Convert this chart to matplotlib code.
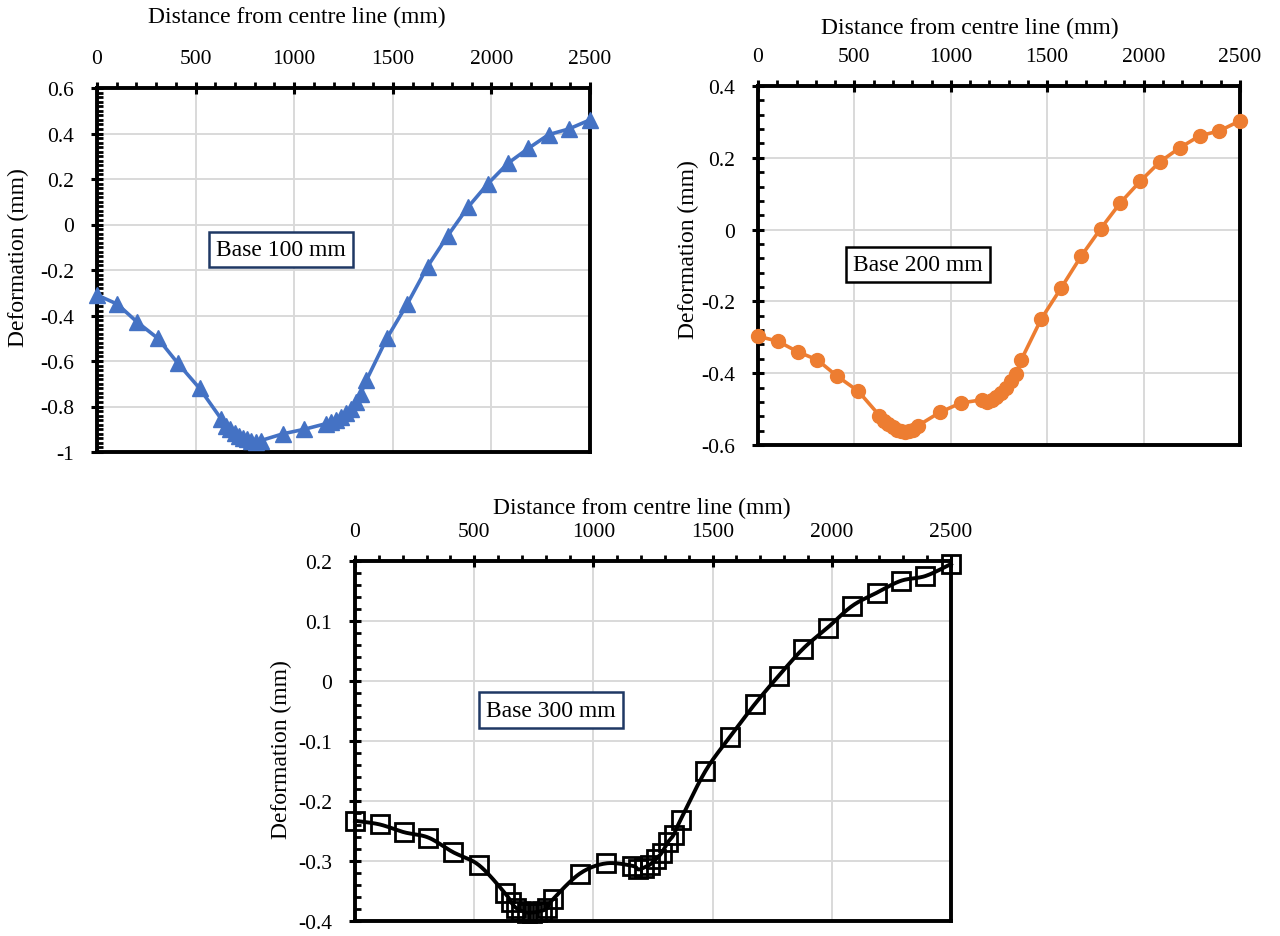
import numpy as np
import matplotlib
matplotlib.use("Agg")
import matplotlib.pyplot as plt
from matplotlib.ticker import MultipleLocator, FuncFormatter

plt.rcParams['font.family'] = ['Liberation Serif', 'DejaVu Serif']

# ---- data ----
distance = [0, 103, 205, 308, 410, 520, 630, 655, 675, 698, 720, 742, 762, 783, 805, 830,
            943, 1052, 1163, 1188, 1212, 1237, 1262, 1287, 1312, 1337, 1366,
            1470, 1573, 1676, 1778, 1880, 1983, 2085, 2188, 2290, 2393, 2500]

def_base100 = [-0.31, -0.35, -0.43, -0.50, -0.61, -0.72, -0.855, -0.885, -0.90, -0.915, -0.93,
               -0.94, -0.945, -0.95, -0.955, -0.95,
               -0.92, -0.90, -0.875, -0.87, -0.86, -0.845, -0.83, -0.81, -0.78, -0.745, -0.685,
               -0.50, -0.35, -0.185, -0.05, 0.075, 0.18, 0.27, 0.335, 0.395, 0.42, 0.46]

def_base200 = [-0.297, -0.311, -0.34, -0.363, -0.408, -0.45, -0.518, -0.532, -0.541, -0.551, -0.557,
               -0.562, -0.563, -0.562, -0.558, -0.546,
               -0.509, -0.483, -0.474, -0.479, -0.475, -0.466, -0.455, -0.44, -0.423, -0.403, -0.362,
               -0.248, -0.162, -0.074, 0.003, 0.075, 0.135, 0.189, 0.228, 0.261, 0.275, 0.303]

def_base300 = [-0.233, -0.239, -0.252, -0.261, -0.285, -0.307, -0.354, -0.369, -0.378, -0.383, -0.386,
               -0.386, -0.385, -0.383, -0.379, -0.364,
               -0.321, -0.304, -0.308, -0.314, -0.311, -0.306, -0.297, -0.286, -0.269, -0.256, -0.231,
               -0.15, -0.093, -0.039, 0.009, 0.054, 0.089, 0.125, 0.147, 0.167, 0.175, 0.195]

labels = ["Base 100 mm", "Base 200 mm", "Base 300 mm"]
xlabel = "Distance from centre line (mm)"
ylabel = "Deformation (mm)"

W, H = 1280, 937
fig = plt.figure(figsize=(W / 100, H / 100), dpi=100)

def ax_at(l, t, r, b):
    return fig.add_axes([l / W, 1 - b / H, (r - l) / W, (b - t) / H])

def catmull(x, y, n=20):
    x = np.asarray(x, float); y = np.asarray(y, float)
    px = np.concatenate([[x[0]], x, [x[-1]]])
    py = np.concatenate([[y[0]], y, [y[-1]]])
    xs, ys = [], []
    t = np.linspace(0, 1, n, endpoint=False)
    for i in range(1, len(px) - 2):
        p0, p1, p2, p3 = px[i-1], px[i], px[i+1], px[i+2]
        q0, q1, q2, q3 = py[i-1], py[i], py[i+1], py[i+2]
        c1x = p1 + (p2 - p0) / 6; c2x = p2 - (p3 - p1) / 6
        c1y = q1 + (q2 - q0) / 6; c2y = q2 - (q3 - q1) / 6
        b0 = (1 - t) ** 3; b1 = 3 * (1 - t) ** 2 * t; b2 = 3 * (1 - t) * t ** 2; b3 = t ** 3
        xs.append(b0 * p1 + b1 * c1x + b2 * c2x + b3 * p2)
        ys.append(b0 * q1 + b1 * c1y + b2 * c2y + b3 * q2)
    xs.append([x[-1]]); ys.append([y[-1]])
    return np.concatenate(xs), np.concatenate(ys)

def style(ax, ylim, ymaj, ymin, yfmt):
    ax.set_xlim(0, 2500)
    ax.set_ylim(*ylim)
    ax.xaxis.tick_top()
    ax.xaxis.set_major_locator(MultipleLocator(500))
    ax.xaxis.set_minor_locator(MultipleLocator(100))
    ax.yaxis.set_major_locator(MultipleLocator(ymaj))
    ax.yaxis.set_minor_locator(MultipleLocator(ymin))
    ax.yaxis.set_major_formatter(FuncFormatter(yfmt))
    ax.grid(True, which='major', color='#d9d9d9', linewidth=1.4)
    ax.set_axisbelow(True)
    for s in ax.spines.values():
        s.set_linewidth(2.8)
        s.set_color('black')
    ax.tick_params(axis='both', which='major', direction='inout', length=9, width=2.2,
                   labelsize=15.5, colors='black')
    ax.tick_params(axis='x', which='major', pad=10, top=True, bottom=False)
    ax.tick_params(axis='y', which='major', pad=12, right=False)
    ax.tick_params(axis='x', which='minor', direction='out', length=4, width=2,
                   top=True, bottom=False)
    ax.tick_params(axis='y', which='minor', direction='in', length=4, width=2,
                   left=True, right=False)

def fmt1(v, pos):
    s = f"{v:.1f}".rstrip('0').rstrip('.')
    if s in ("-0", "0.0", "-0.0"):
        s = "0"
    return s

def add_box(ax, xf, yf, text, ec):
    ax.text(xf, yf, text, transform=ax.transAxes, ha='center', va='center',
            fontsize=17, zorder=5,
            bbox=dict(boxstyle='square,pad=0.3', facecolor='white', edgecolor=ec, linewidth=1.8))

def fig_text(xp, yp, s, rot=0):
    fig.text(xp / W, 1 - yp / H, s, ha='center', va='center', fontsize=17, rotation=rot)

# Panel 1
ax1 = ax_at(97, 89, 590, 453)
style(ax1, (-1.0, 0.6), 0.2, 0.02, fmt1)
ax1.plot(distance, def_base100, color='#4472c4', linewidth=2.6, marker='^', markersize=11,
         clip_on=False, zorder=4)
add_box(ax1, 0.373, 0.556, labels[0], '#1f3864')
fig_text(297, 17, xlabel)
fig_text(18, 258, ylabel, rot=90)

# Panel 2
ax2 = ax_at(758, 87, 1240, 446)
style(ax2, (-0.6, 0.4), 0.2, 0.04, fmt1)
ax2.plot(distance, def_base200, color='#ed7d31', linewidth=2.6, marker='o', markersize=10,
         clip_on=False, zorder=4)
add_box(ax2, 0.332, 0.503, labels[1], 'black')
fig_text(970, 28, xlabel)
fig_text(688, 250, ylabel, rot=90)

# Panel 3
ax3 = ax_at(355, 562, 951, 922)
style(ax3, (-0.4, 0.2), 0.1, 0.02, fmt1)
sx, sy = catmull(distance, def_base300)
ax3.plot(sx, sy, color='black', linewidth=2.8, zorder=3, clip_on=False)
ax3.plot(distance, def_base300, linestyle='none', marker='s', markersize=13,
         markerfacecolor='none', markeredgecolor='black', markeredgewidth=2.0,
         clip_on=False, zorder=4)
add_box(ax3, 0.329, 0.586, labels[2], '#1f3864')
fig_text(642, 508, xlabel)
fig_text(281, 750, ylabel, rot=90)

fig.savefig("out.png", dpi=100)
